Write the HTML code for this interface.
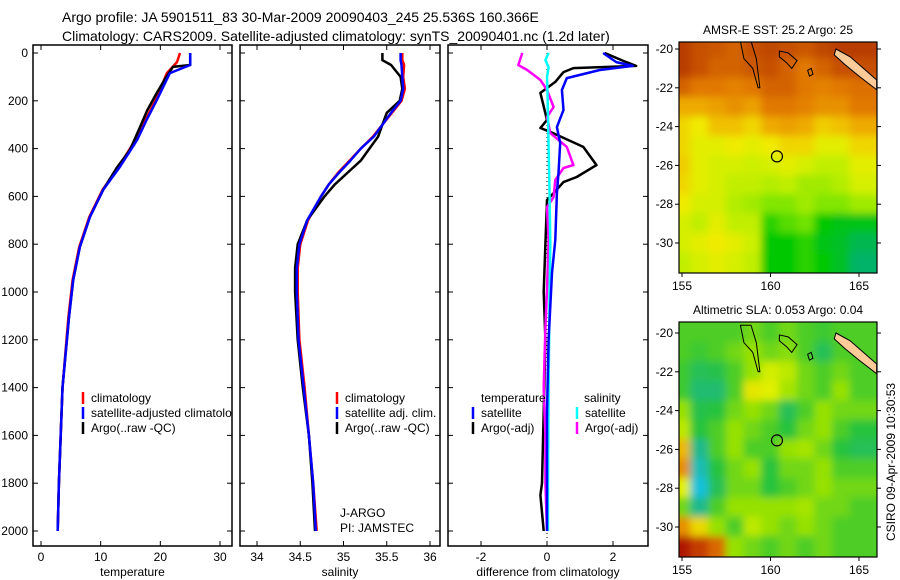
<!DOCTYPE html>
<html><head><meta charset="utf-8"><style>
body{margin:0;background:#fff;}
svg{display:block;font-family:"Liberation Sans",sans-serif;}
</style></head><body>
<svg id="c" width="900" height="580" viewBox="0 0 900 580">
<defs>
<clipPath id="cp1"><rect x="33" y="45" width="199" height="501"/></clipPath>
<clipPath id="cp2"><rect x="240" y="45" width="200" height="501"/></clipPath>
<clipPath id="cp3"><rect x="448" y="45" width="200" height="501"/></clipPath>
<clipPath id="cm1"><rect x="679" y="42" width="198" height="231"/></clipPath>
<clipPath id="cm2"><rect x="679" y="322" width="198" height="235"/></clipPath>
<filter id="bl" x="-10%" y="-10%" width="120%" height="120%"><feGaussianBlur stdDeviation="4"/></filter>
</defs>
<text x="62" y="22" font-size="14">Argo profile: JA 5901511_83 30-Mar-2009 20090403_245 25.536S 160.366E</text>
<text x="62" y="41" font-size="14">Climatology: CARS2009. Satellite-adjusted climatology: synTS_20090401.nc (1.2d later)</text>
<g id="g1"></g>
<g id="g2"></g>
<g id="g3"></g>
<g id="m1"></g>
<g id="m2"></g>
<text transform="translate(895,462) rotate(-90)" text-anchor="middle" font-size="12">CSIRO 09-Apr-2009 10:30:53</text>
</svg>
<script>
// ---- profile data ----
const tArgoDepth=[0,50,58,100,167,240,310,406,480,573,686,812,950,1105,1400,1600,1800,2000];
const tArgo=[25,25,22.1,21,19.4,17.8,16.6,14.9,12.7,10.4,8.2,6.5,5.4,4.7,3.6,3.3,3.0,2.8];
const tSatDepth=[0,50,84,197,280,364,477,573,686,812,950,1105,1400,1600,1800,2000];
const tSat=[25,25,21.6,19.4,17.7,16.1,13.2,10.4,8.2,6.5,5.4,4.7,3.6,3.3,3.0,2.8];
const tClimDepth=[0,38,84,197,280,364,477,573,686,812,950,1105,1400,1600,1800,2000];
const tClim=[23.3,22.8,21.1,19.2,17.5,15.8,13.0,10.3,8.1,6.4,5.3,4.6,3.6,3.3,3.0,2.8];
const sDepth=[0,30,50,100,150,200,250,300,350,400,450,500,550,600,700,800,900,1000,1200,1400,1600,1800,2000];
const sArgo=[35.45,35.45,35.55,35.66,35.68,35.65,35.5,35.45,35.4,35.3,35.2,35.05,34.9,34.78,34.58,34.47,34.44,34.44,34.47,34.53,34.6,34.64,34.67];
const sClim=[35.68,35.68,35.7,35.69,35.71,35.67,35.56,35.45,35.34,35.2,35.07,34.94,34.83,34.74,34.59,34.5,34.47,34.47,34.49,34.55,34.6,34.65,34.69];
const sSat=[35.66,35.66,35.67,35.68,35.69,35.66,35.55,35.45,35.35,35.2,35.08,34.95,34.83,34.74,34.58,34.49,34.46,34.46,34.48,34.54,34.6,34.65,34.68];
const dTDepth=[0,38,54,63,80,121,167,280,314,330,393,469,519,540,586,615,800,1000,1200,1500,1800,1850,2000];
const dTArgo=[1.75,2.4,2.7,0.8,0.5,0.25,-0.2,0,-0.2,0.1,1.1,1.5,0.9,0.5,0.2,0,-0.05,-0.1,-0.05,-0.1,-0.15,-0.2,-0.1];
const dTSatDepth=[0,38,54,71,105,155,238,310,377,502,586,782,920,1200,1500,2000];
const dTSat=[1.7,2.1,2.6,1.6,0.6,0.45,0.5,0.3,0.4,0.35,0.3,0.25,0.15,0.05,0,0];
const dSDepth=[0,50,71,113,155,226,268,335,393,469,481,531,603,645,782,992,1150,1400,1600,1800,2000];
const dSArgo=[-0.75,-0.87,-0.6,-0.2,0,0.2,0,0.1,0.6,0.8,0.5,0.25,0.2,0,0.05,0,-0.05,-0.1,-0.05,-0.05,0];
const dSSatDepth=[0,30,60,100,200,400,600,800,1000,1400,1800,2000];
const dSSat=[0.05,-0.05,0.05,0,0.02,0.05,0.08,0.1,0.08,0.05,0.03,0.03];
const depthTicks=[0,200,400,600,800,1000,1200,1400,1600,1800,2000];
const tTicks=[0,10,20,30], sTicks=[34,34.5,35,35.5,36], dTicks=[-2,0,2];

const NS="http://www.w3.org/2000/svg";
function mk(tag,attrs,parent){const e=document.createElementNS(NS,tag);for(const k in attrs)e.setAttribute(k,attrs[k]);parent.appendChild(e);return e;}
const yD=d=>53+d*0.239;
function lin(d0,d1,p0,p1){return v=>p0+(v-d0)*(p1-p0)/(d1-d0);}
const xT=lin(0,30,41,220), xS=lin(34,36,257,430), xDf=lin(-2,2,481,613);

function panel(g,x0,x1,xs,ticks,title,clip,ylabels){
  const r=mk('rect',{x:x0,y:45,width:x1-x0,height:501,fill:'none',stroke:'#000','stroke-width':1.5},g);
  
  
  ticks.forEach(t=>{const x=xs(t);
    mk('line',{x1:x,x2:x,y1:45,y2:50,stroke:'#000'},g);
    mk('line',{x1:x,x2:x,y1:541,y2:546,stroke:'#000'},g);
    const tx=mk('text',{x:x,y:561,'text-anchor':'middle','font-size':12},g);tx.textContent=t;
    
    });
  depthTicks.forEach(d=>{const y=yD(d);
    mk('line',{x1:x0,x2:x0+5,y1:y,y2:y,stroke:'#000'},g);
    mk('line',{x1:x1-5,x2:x1,y1:y,y2:y,stroke:'#000'},g);
    if(ylabels){const tx=mk('text',{x:x0-5,y:y+4,'text-anchor':'end','font-size':12},g);tx.textContent=d;
      
      }});
  const tt=mk('text',{x:(x0+x1)/2,y:576,'text-anchor':'middle','font-size':12},g);tt.textContent=title;
  
  
  return mk('g',{'clip-path':'url(#'+clip+')'},g);
}
function line(g,depths,vals,xs,color,name,w){
  const pts=depths.map((d,i)=>xs(vals[i]).toFixed(1)+','+yD(d).toFixed(1)).join(' ');
  const p=mk('polyline',{points:pts,fill:'none',stroke:color,'stroke-width':w||2.5,'stroke-linejoin':'round'},g);
  
  
}
function legend(g,x,y,items){
  items.forEach((it,i)=>{const yy=y+i*15;
    mk('line',{x1:x,x2:x,y1:yy-10,y2:yy+2,stroke:it[1],'stroke-width':2.5},g);
    const t=mk('text',{x:x+8,y:yy,'font-size':12},g);t.textContent=it[0];
    
    });
}
const g1=document.getElementById('g1'),g2=document.getElementById('g2'),g3=document.getElementById('g3');
const c1=panel(g1,33,232,xT,tTicks,'temperature','cp1',true);
line(c1,tClimDepth,tClim,xT,'#f00','temp-climatology-line');
line(c1,tArgoDepth,tArgo,xT,'#000','temp-argo-line');
line(c1,tSatDepth,tSat,xT,'#00f','temp-satellite-line');
legend(c1,83,402,[['climatology','#f00'],['satellite-adjusted climatology','#00f'],['Argo(..raw -QC)','#000']]);
const c2=panel(g2,240,440,xS,sTicks,'salinity','cp2',false);
line(c2,sDepth,sClim,xS,'#f00','sal-climatology-line');
line(c2,sDepth,sArgo,xS,'#000','sal-argo-line');
line(c2,sDepth,sSat,xS,'#00f','sal-satellite-line');
legend(c2,337,402,[['climatology','#f00'],['satellite adj. clim.','#00f'],['Argo(..raw -QC)','#000']]);
[['J-ARGO',517],['PI: JAMSTEC',532]].forEach(a=>{const t=mk('text',{x:340,y:a[1],'font-size':12},g2);t.textContent=a[0];
  
  });
const c3=panel(g3,448,648,xDf,dTicks,'difference from climatology','cp3',false);
mk('line',{x1:xDf(0),x2:xDf(0),y1:45,y2:546,stroke:'#000','stroke-dasharray':'1,3'},c3);
line(c3,dTDepth,dTArgo,xDf,'#000','temp-diff-argo-line');
line(c3,dSDepth,dSArgo,xDf,'#f0f','sal-diff-argo-line');
line(c3,dSSatDepth,dSSat,xDf,'#0ff','sal-diff-satellite-line');
line(c3,dTSatDepth,dTSat,xDf,'#00f','temp-diff-satellite-line');
{const t=mk('text',{x:481,y:402,'font-size':12},c3);t.textContent='temperature';
 
 
 const u=mk('text',{x:584,y:402,'font-size':12},c3);u.textContent='salinity';
 
 }
legend(c3,473,417,[['satellite','#00f'],['Argo(-adj)','#000']]);
legend(c3,577,417,[['satellite','#0ff'],['Argo(-adj)','#f0f']]);

// ---- maps ----
const sstGrid=[
[.95,.9,.88,.85,.9,.92,.9,.88,.92,.95,.95],
[.95,.9,.85,.85,.88,.9,.85,.8,.85,.9,.9],
[.85,.8,.8,.78,.8,.85,.85,.8,.78,.8,.82],
[.7,.7,.72,.75,.72,.8,.8,.78,.75,.75,.8],
[.6,.55,.65,.65,.6,.7,.72,.7,.62,.65,.7],
[.6,.5,.5,.55,.5,.55,.6,.6,.5,.5,.6],
[.62,.5,.45,.45,.42,.45,.5,.45,.4,.4,.5],
[.6,.5,.45,.4,.4,.38,.4,.35,.35,.38,.45],
[.55,.45,.45,.38,.35,.3,.3,.35,.3,.3,.35],
[.45,.4,.5,.4,.4,.2,.25,.28,.15,.12,.12],
[.45,.5,.55,.5,.42,.15,.15,.2,.12,.1,.05],
[.4,.45,.5,.45,.4,.15,.15,.2,.15,.1,.02]];
const slaGrid=[
[.5,.5,.5,.5,.55,.5,.55,.5,.48,.5,.5],
[.5,.48,.5,.55,.6,.55,.58,.5,.4,.5,.5],
[.48,.4,.42,.5,.6,.68,.65,.55,.5,.55,.5],
[.48,.35,.35,.5,.72,.7,.62,.55,.5,.6,.5],
[.6,.42,.45,.55,.6,.55,.4,.5,.6,.55,.55],
[.65,.45,.5,.6,.55,.5,.45,.55,.6,.5,.45],
[.8,.3,.5,.6,.5,.5,.6,.62,.55,.45,.4],
[.85,.2,.45,.55,.6,.45,.55,.55,.6,.5,.5],
[.7,.1,.4,.55,.55,.45,.5,.55,.6,.55,.55],
[.55,.3,.5,.6,.6,.6,.6,.62,.55,.55,.5],
[.85,.75,.6,.5,.65,.6,.55,.6,.55,.5,.5],
[1,.95,.9,.6,.55,.5,.55,.5,.55,.5,.5]];
const lonTicks=[155,160,165], latTicks=[-20,-22,-24,-26,-28,-30];
const argoLon=160.366, argoLat=-25.536;
const sstStops=[[0,[0,176,120]],[.15,[0,200,0]],[.3,[130,230,0]],[.42,[205,240,0]],[.55,[240,235,0]],[.68,[240,180,0]],[.8,[225,120,0]],[1,[170,40,0]]];
const slaStops=[[0,[0,200,255]],[.15,[30,190,200]],[.3,[30,185,140]],[.45,[40,195,60]],[.6,[150,225,0]],[.7,[225,240,0]],[.78,[240,200,0]],[.88,[225,120,0]],[1,[175,20,0]]];
function cmap(stops,v){for(let i=1;i<stops.length;i++){if(v<=stops[i][0]){const a=stops[i-1],b=stops[i],f=(v-a[0])/(b[0]-a[0]);
  return 'rgb('+a[1].map((c,k)=>Math.round(c+(b[1][k]-c)*f)).join(',')+')';}}return 'rgb('+stops[stops.length-1][1].join(',')+')';}
function drawMap(id,grid,stops,top,bot,lat20,lat30,title,clip){
  const g=document.getElementById(id);
  const xL=lin(155,165,682,859), yL=lin(-20,-30,lat20,lat30);
  const t=mk('text',{x:778,y:top-8,'text-anchor':'middle','font-size':12},g);t.textContent=title;
  
  
  const cg=mk('g',{'clip-path':'url(#'+clip+')'},g);
  const hg=mk('g',{filter:'url(#bl)'},cg);
  const nr=grid.length, nc=grid[0].length;
  for(let r=-1;r<=nr+1;r++)for(let c=-1;c<=nc+1;c++){
    const v=grid[Math.min(nr-1,Math.max(0,r))][Math.min(nc-1,Math.max(0,c))];
    const x=xL(154.5+c), y=yL(-19.5-r), w=xL(155.5+c)-x, h=yL(-20.5-r)-y;
    const cell=mk('rect',{x:x-0.5,y:y-0.5,width:w+1,height:h+1,fill:cmap(stops,v)},hg);
    
    }
  const coast=[[[158.3,-19.6],[158.5,-20.5],[159,-21],[159.3,-22],[159.4,-22],[159.2,-20.5],[158.9,-19.6]],
    [[160.5,-20.1],[161,-20.2],[161.5,-20.6],[161.2,-21],[160.9,-20.7],[160.5,-20.4]],
    [[162.1,-21.1],[162.3,-21],[162.4,-21.3],[162.2,-21.4]]];
  coast.forEach(poly=>{const p=mk('polygon',{points:poly.map(q=>xL(q[0])+','+yL(q[1])).join(' '),fill:'none',stroke:'#000','stroke-width':1},cg);
    
    });
  const ncal=mk('polygon',{points:[[163.7,-20],[164.5,-20.4],[165.5,-21.2],[166,-21.6],[166,-22.1],[165,-21.4],[164.2,-20.8],[163.6,-20.3]].map(q=>xL(q[0])+','+yL(q[1])).join(' '),fill:'#ffcc99',stroke:'#000','stroke-width':1},cg);
  
  
  const ci=mk('circle',{cx:xL(argoLon),cy:yL(argoLat),r:5.5,fill:'none',stroke:'#000','stroke-width':1.2},cg);
  
  
  mk('rect',{x:679,y:top,width:198,height:bot-top,fill:'none',stroke:'#000','stroke-width':1.2},g);
  lonTicks.forEach(l=>{const x=xL(l);mk('line',{x1:x,x2:x,y1:bot,y2:bot+4,stroke:'#000'},g);
    const tx=mk('text',{x:x,y:bot+17,'text-anchor':'middle','font-size':12},g);tx.textContent=l;
    
    });
  latTicks.forEach(l=>{const y=yL(l);mk('line',{x1:675,x2:679,y1:y,y2:y,stroke:'#000'},g);mk('line',{x1:877,x2:881,y1:y,y2:y,stroke:'#000'},g);
    const tx=mk('text',{x:673,y:y+4,'text-anchor':'end','font-size':12},g);tx.textContent=l;
    
    });
}
drawMap('m1',sstGrid,sstStops,42,273,49,243,'AMSR-E SST: 25.2 Argo: 25','cm1');
drawMap('m2',slaGrid,slaStops,322,557,333,527,'Altimetric SLA: 0.053 Argo: 0.04','cm2');
</script>
</body></html>
